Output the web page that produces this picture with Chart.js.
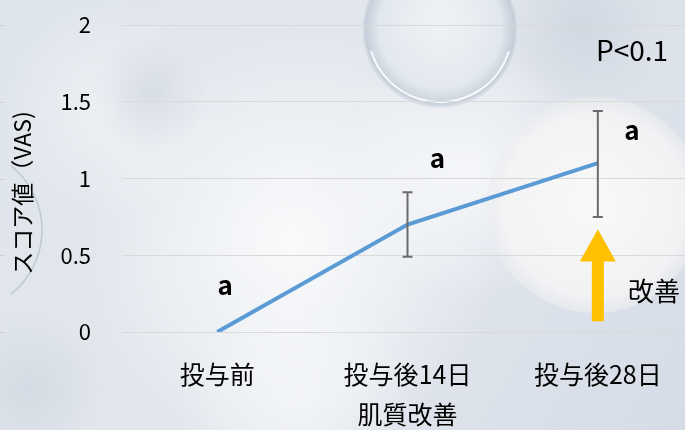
<!DOCTYPE html>
<html><head><meta charset="utf-8">
<script src="https://cdn.jsdelivr.net/npm/chart.js@4/dist/chart.umd.min.js"></script>
<style>html,body{margin:0;padding:0;overflow:hidden;width:685px;height:430px;background:#dde3ea}canvas{display:block}</style>
</head><body>
<canvas id="c" width="700" height="430"></canvas>
<script>
const categories = ['投与前', '投与後14日', '投与後28日'];
const scores = [0, 0.70, 1.10];
const errUpper = [null, 0.91, 1.44];
const errLower = [null, 0.49, 0.75];
const groupLetters = ['a', 'a', 'a'];
const yTicks = [0, 0.5, 1, 1.5, 2];
const yTitle = 'スコア値（VAS)';
const xTitle = '肌質改善';
const pText = 'P<0.1';
const improveText = '改善';

const FONT = '"Noto Sans CJK JP", "Noto Sans", sans-serif';

const bgPlugin = {
  id: 'bg',
  beforeDraw(chart) {
    const ctx = chart.ctx, W = chart.width, H = chart.height;
    ctx.save();
    let g = ctx.createLinearGradient(0, 0, W, H);
    g.addColorStop(0, '#dfe5ec'); g.addColorStop(0.5, '#e4e8ee'); g.addColorStop(1, '#d5dce7');
    ctx.fillStyle = g; ctx.fillRect(0, 0, W, H);
    const glow = (x, y, r, a) => {
      const rg = ctx.createRadialGradient(x, y, 0, x, y, r);
      rg.addColorStop(0, `rgba(255,255,255,${a})`); rg.addColorStop(1, 'rgba(255,255,255,0)');
      ctx.fillStyle = rg; ctx.fillRect(x - r, y - r, 2 * r, 2 * r);
    };
    glow(290, 240, 210, 0.8);
    glow(110, 110, 110, 0.45);
    glow(470, 170, 130, 0.65);
    glow(300, 400, 120, 0.5);
    const dark = (x, y, r, a) => {
      const rg = ctx.createRadialGradient(x, y, 0, x, y, r);
      rg.addColorStop(0, `rgba(175,185,200,${a})`); rg.addColorStop(1, 'rgba(175,185,200,0)');
      ctx.fillStyle = rg; ctx.fillRect(x - r, y - r, 2 * r, 2 * r);
    };
    dark(150, 95, 60, 0.3);
    dark(580, 25, 90, 0.3);
    dark(30, 390, 80, 0.25);
    // big bubble right
    let rg = ctx.createRadialGradient(595, 205, 0, 595, 205, 108);
    rg.addColorStop(0, 'rgba(250,250,250,0.95)'); rg.addColorStop(0.85, 'rgba(244,244,245,0.9)'); rg.addColorStop(1, 'rgba(236,237,239,0.6)');
    ctx.fillStyle = rg; ctx.beginPath(); ctx.arc(595, 205, 108, 0, Math.PI * 2); ctx.fill();
    // top glass bubble
    rg = ctx.createRadialGradient(440, 20, 10, 440, 30, 78);
    rg.addColorStop(0, 'rgba(240,244,247,0.8)'); rg.addColorStop(0.75, 'rgba(225,232,238,0.8)'); rg.addColorStop(0.95, 'rgba(190,200,212,0.8)'); rg.addColorStop(1, 'rgba(215,222,230,0.5)');
    ctx.fillStyle = rg; ctx.beginPath(); ctx.arc(440, 30, 78, 0, Math.PI * 2); ctx.fill();
    ctx.strokeStyle = 'rgba(255,255,255,0.9)'; ctx.lineWidth = 2;
    ctx.beginPath(); ctx.arc(440, 30, 72, 0.3, Math.PI - 0.3); ctx.stroke();
    // left bubble edge
    ctx.strokeStyle = 'rgba(150,165,180,0.45)'; ctx.lineWidth = 1.5;
    ctx.beginPath(); ctx.arc(-40, 230, 82, -0.9, 0.9); ctx.stroke();
    // stray tick marks at left edge
    ctx.strokeStyle = '#d0d0d0'; ctx.lineWidth = 1;
    const ys = chart.scales.y;
    yTicks.forEach(v => { const py = Math.round(ys.getPixelForValue(v)) + 0.5; ctx.beginPath(); ctx.moveTo(0, py); ctx.lineTo(5, py); ctx.stroke(); });
    ctx.restore();
  }
};

const overlayPlugin = {
  id: 'overlay',
  afterDatasetsDraw(chart) {
    const ctx = chart.ctx, xs = chart.scales.x, ys = chart.scales.y;
    ctx.save();
    // y title
    ctx.save();
    ctx.translate(22, 193); ctx.rotate(-Math.PI / 2);
    ctx.fillStyle = '#000'; ctx.font = '23px ' + FONT; ctx.textAlign = 'center'; ctx.textBaseline = 'middle';
    ctx.fillText(yTitle, 0, 0);
    ctx.restore();
    // error bars
    ctx.strokeStyle = '#6b6b6b'; ctx.lineWidth = 2;
    categories.forEach((c, i) => {
      if (errUpper[i] == null) return;
      const x = xs.getPixelForValue(i);
      const yt = ys.getPixelForValue(errUpper[i]), yb = ys.getPixelForValue(errLower[i]);
      ctx.beginPath();
      ctx.moveTo(x, yt); ctx.lineTo(x, yb);
      ctx.moveTo(x - 5, yt); ctx.lineTo(x + 5, yt);
      ctx.moveTo(x - 5, yb); ctx.lineTo(x + 5, yb);
      ctx.stroke();
    });
    // letters
    ctx.fillStyle = '#000'; ctx.font = 'bold 26px ' + FONT; ctx.textAlign = 'center'; ctx.textBaseline = 'middle';
    const letterPos = [[8, 0.29], [30, 1.12], [34, 1.30]];
    groupLetters.forEach((t, i) => {
      ctx.fillText(t, xs.getPixelForValue(i) + letterPos[i][0], ys.getPixelForValue(letterPos[i][1]) - 2);
    });
    // P text
    ctx.font = '28px ' + FONT; ctx.textAlign = 'left';
    ctx.fillText(pText, 596, 50);
    // improve arrow
    const ax = xs.getPixelForValue(2);
    const tip = ys.getPixelForValue(0.67), base = ys.getPixelForValue(0.07), headB = ys.getPixelForValue(0.46);
    ctx.fillStyle = '#ffc000';
    ctx.beginPath();
    ctx.moveTo(ax, tip); ctx.lineTo(ax + 18, headB); ctx.lineTo(ax + 6, headB); ctx.lineTo(ax + 6, base);
    ctx.lineTo(ax - 6, base); ctx.lineTo(ax - 6, headB); ctx.lineTo(ax - 18, headB); ctx.closePath(); ctx.fill();
    ctx.fillStyle = '#000'; ctx.textAlign = 'left';
    ctx.font = '26px ' + FONT;
    ctx.fillText(improveText, 628, 291);
    ctx.restore();
  }
};

new Chart(document.getElementById('c'), {
  type: 'line',
  data: {
    labels: categories,
    datasets: [{
      data: scores,
      borderColor: '#5b9bd5',
      borderWidth: 4,
      pointRadius: 0,
      tension: 0,
      fill: false
    }]
  },
  options: {
    responsive: false,
    animation: false,
    layout: { padding: { top: 25, right: 7, left: 0, bottom: 0 } },
    plugins: { legend: { display: false }, tooltip: { enabled: false } },
    scales: {
      x: {
        offset: true,
        grid: { display: false, drawTicks: false },
        border: { display: false },
        ticks: { color: '#000', font: { family: FONT, size: 25 }, padding: 27, maxRotation: 0 },
        title: { display: true, text: xTitle, color: '#000', font: { family: FONT, size: 25 }, padding: { top: 0, bottom: 1 } },
        afterFit(s) { s.height = 98; }
      },
      y: {
        min: 0, max: 2,
        afterBuildTicks(s) { s.ticks = yTicks.map(v => ({ value: v })); },
        grid: { color: '#d9d9d9', lineWidth: 1, drawTicks: false },
        border: { display: false },
        ticks: { color: '#000', font: { family: FONT, size: 22 }, padding: 31, callback: v => String(v) },
        afterFit(s) { s.width = 122; s.paddingTop = 0; s.paddingBottom = 0; }
      }
    }
  },
  plugins: [bgPlugin, overlayPlugin]
});
</script>
</body></html>
